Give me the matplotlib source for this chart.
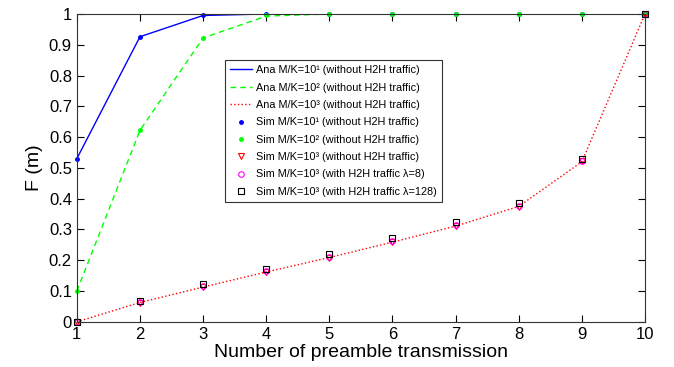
import numpy as np
import matplotlib.pyplot as plt

plt.rcParams['font.family'] = ['Liberation Sans', 'DejaVu Sans']

# dados
n = [1, 2, 3, 4, 5, 6, 7, 8, 9, 10]
ana_10 = [0.53, 0.926, 0.995, 1, 1, 1, 1, 1, 1, 1]
ana_100 = [0.10, 0.622, 0.922, 0.993, 1, 1, 1, 1, 1, 1]
ana_1000 = [0.0, 0.063, 0.113, 0.162, 0.209, 0.259, 0.311, 0.375, 0.52, 1.0]
sim_10 = [0.53, 0.926, 0.995, 1, 1, 1, 1, 1, 1, 1]
sim_100 = [0.10, 0.622, 0.922, 0.995, 1, 1, 1, 1, 1, 1]
sim_1000 = [0.0, 0.062, 0.112, 0.161, 0.208, 0.258, 0.310, 0.374, 0.521, 1.0]
sim_l8 = [0.0, 0.064, 0.115, 0.164, 0.211, 0.261, 0.313, 0.377, 0.523, 1.0]
sim_l128 = [0.0, 0.069, 0.122, 0.172, 0.221, 0.271, 0.323, 0.387, 0.528, 1.0]

fig = plt.figure(figsize=(6.74, 3.67), dpi=100)
ax = fig.add_axes([0.114, 0.123, 0.843, 0.839])

ax.plot(n, ana_10, '-', color='#0000ff', lw=1.0, label='Ana M/K=10¹ (without H2H traffic)')
ax.plot(n, ana_100, '--', color='#00ff00', lw=1.0, dashes=(4, 3), label='Ana M/K=10² (without H2H traffic)')
ax.plot(n, ana_1000, ':', color='#ff0000', lw=1.0, label='Ana M/K=10³ (without H2H traffic)')
ax.plot(n, sim_10, '.', color='#0000ff', ms=5, clip_on=False, label='Sim M/K=10¹ (without H2H traffic)')
ax.plot(n, sim_100, '.', color='#00ff00', ms=5, clip_on=False, label='Sim M/K=10² (without H2H traffic)')
ax.plot(n, sim_1000, 'v', color='#ff0000', mfc='none', ms=4, mew=0.8, clip_on=False,
        label='Sim M/K=10³ (without H2H traffic)')
ax.plot(n, sim_l8, 'o', color='#ff00ff', mfc='none', ms=4, mew=0.8, clip_on=False,
        label='Sim M/K=10³ (with H2H traffic λ=8)')
ax.plot(n, sim_l128, 's', color='black', mfc='none', ms=4, mew=0.8, clip_on=False,
        label='Sim M/K=10³ (with H2H traffic λ=128)')

ax.set_xlim(1, 10)
ax.set_ylim(0, 1)
ax.set_xticks(range(1, 11))
ax.set_yticks(np.arange(0, 1.01, 0.1))
ax.set_yticklabels(['0', '0.1', '0.2', '0.3', '0.4', '0.5', '0.6', '0.7', '0.8', '0.9', '1'])
ax.tick_params(direction='in', top=True, right=True, labelsize=12, length=5, width=0.8)
for s in ax.spines.values():
    s.set_linewidth(0.8)
    s.set_color('#333333')

ax.set_xlabel('Number of preamble transmission', fontsize=14, labelpad=2)
ax.set_ylabel('F (m)', fontsize=14, labelpad=4)

leg = ax.legend(loc='upper left', bbox_to_anchor=(0.2606, 0.851), fontsize=7.8, fancybox=False,
                framealpha=1, edgecolor='#333333', handlelength=2.0, handletextpad=0.35,
                labelspacing=0.68, borderpad=0.5, borderaxespad=0)
leg.get_frame().set_linewidth(0.8)

fig.savefig('out.png', dpi=100)
